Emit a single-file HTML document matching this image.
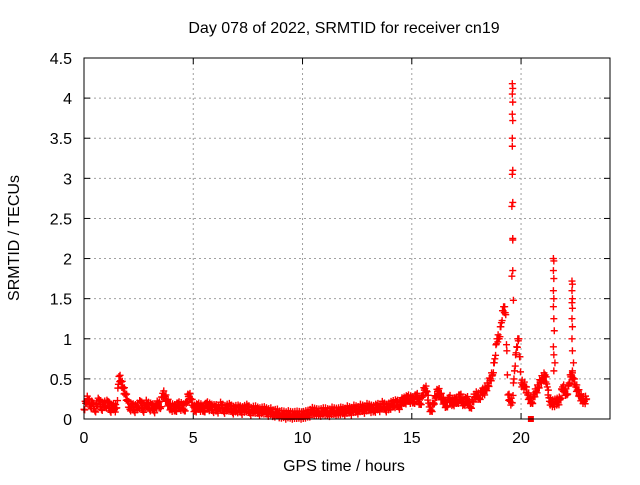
<!DOCTYPE html>
<html><head><meta charset="utf-8"><style>
body{margin:0;background:#fff}
svg text{font-family:"Liberation Sans",sans-serif;font-size:16px;fill:#000}
</style></head><body>
<svg id="chart" width="640" height="480" viewBox="0 0 640 480" xmlns="http://www.w3.org/2000/svg">
<rect width="640" height="480" fill="#fff"/>
<text x="344" y="33" text-anchor="middle">Day 078 of 2022, SRMTID for receiver cn19</text>
<text x="344" y="471" text-anchor="middle">GPS time / hours</text>
<text x="19" y="238" text-anchor="middle" transform="rotate(-90 19 238)">SRMTID / TECUs</text>
<g id="grid"></g>
<g id="ticks"></g>
<g id="marks"></g>
<rect x="84" y="58" width="526" height="361" fill="none" stroke="#000" stroke-width="1"/>
</svg>
<script>
const xTicks=[0,5,10,15,20];
const yTicks=[0,0.5,1,1.5,2,2.5,3,3.5,4,4.5];
const yTickLabels=["0","0.5","1","1.5","2","2.5","3","3.5","4","4.5"];
const baseStart=0, baseStep=0.1;
const baseValues=[
0.12,0.22,0.25,0.15,0.2,0.1,0.18,0.24,0.12,0.2,
0.15,0.22,0.1,0.17,0.12,0.14,0.53,0.46,0.38,0.3,
0.22,0.12,0.18,0.1,0.16,0.14,0.22,0.1,0.17,0.2,
0.12,0.18,0.1,0.15,0.2,0.13,0.32,0.28,0.22,0.17,
0.12,0.16,0.1,0.2,0.13,0.18,0.1,0.22,0.3,0.24,
0.15,0.1,0.18,0.12,0.16,0.09,0.2,0.13,0.17,0.1,
0.16,0.1,0.14,0.18,0.09,0.15,0.12,0.17,0.08,0.14,
0.1,0.15,0.08,0.13,0.11,0.16,0.07,0.12,0.1,0.13,
0.07,0.11,0.09,0.12,0.06,0.1,0.08,0.05,0.09,0.06,
0.04,0.07,0.03,0.05,0.06,0.03,0.05,0.04,0.06,0.03,
0.05,0.04,0.07,0.05,0.09,0.1,0.07,0.09,0.06,0.1,
0.08,0.1,0.06,0.09,0.11,0.07,0.1,0.08,0.12,0.07,
0.1,0.13,0.08,0.11,0.14,0.09,0.12,0.15,0.1,0.13,
0.16,0.11,0.14,0.1,0.17,0.12,0.15,0.19,0.11,0.16,
0.14,0.2,0.16,0.22,0.15,0.18,0.25,0.2,0.28,0.22,
0.26,0.2,0.3,0.24,0.18,0.3,0.38,0.34,0.15,0.1,
0.2,0.28,0.36,0.3,0.24,0.2,0.15,0.27,0.22,0.18,
0.25,0.2,0.3,0.22,0.18,0.26,0.2,0.14,0.24,0.28,
0.3,0.25,0.35,0.32,0.38,0.42,0.5,0.55,0.75,1.0,
1.0,1.2,1.4,1.3,0.3,0.22,0.2,0.6,0.9,1.0,
0.45,0.42,0.4,0.3,0.25,0.2,0.3,0.35,0.4,0.48,
0.5,0.55,0.4,0.22,0.2,0.18,0.22,0.2,0.25,0.4,
0.35,0.3,0.45,0.55,0.5,0.4,0.35,0.28,0.24,0.22,0.25];
const spikeHours=[19.6,19.62,19.6,19.62,19.6,19.62,19.6,19.6,19.62,19.6,19.62,19.58,19.62,19.62,19.58,19.62,19.65,
21.48,21.5,21.48,21.5,21.48,21.5,21.48,21.5,21.52,21.48,21.5,21.55,21.5,
22.33,22.35,22.33,22.35,22.33,22.35,22.33,22.35,22.33,22.35,22.4,22.35];
const spikeValues=[4.18,4.12,4.05,3.95,3.8,3.72,3.5,3.4,3.1,3.05,2.7,2.65,2.25,2.23,1.78,1.85,1.48,
2.0,1.97,1.85,1.75,1.6,1.5,1.4,1.25,1.1,0.9,0.8,0.7,0.6,
1.72,1.68,1.6,1.5,1.45,1.38,1.25,1.15,1.0,0.85,0.7,0.6];
const NS="http://www.w3.org/2000/svg";
const X=h=>84+h*(526/24.07);
const Y=v=>419-v*(361/4.5);
const grid=document.getElementById('grid'),ticks=document.getElementById('ticks'),marks=document.getElementById('marks');
function mk(t,a,p){const e=document.createElementNS(NS,t);for(const k in a)e.setAttribute(k,a[k]);p.appendChild(e);return e;}
xTicks.forEach(t=>{const x=X(t);
 const g=mk('line',{x1:x,x2:x,y1:58,y2:419,stroke:'#a0a0a0','stroke-dasharray':'2,3'},grid);
 
 
 const l=mk('text',{x:x,y:443,'text-anchor':'middle'},ticks);l.textContent=t;
 
 
 mk('line',{x1:x,x2:x,y1:419,y2:413,stroke:'#000'},ticks);
 mk('line',{x1:x,x2:x,y1:58,y2:64,stroke:'#000'},ticks);
});
yTicks.forEach((t,i)=>{const y=Y(t);
 const g=mk('line',{x1:84,x2:610,y1:y,y2:y,stroke:'#a0a0a0','stroke-dasharray':'2,3'},grid);
 
 
 const l=mk('text',{x:72,y:y+6,'text-anchor':'end'},ticks);l.textContent=yTickLabels[i];
 
 
 mk('line',{x1:84,x2:90,y1:y,y2:y,stroke:'#000'},ticks);
 mk('line',{x1:610,x2:604,y1:y,y2:y,stroke:'#000'},ticks);
});
function plus(h,v){const x=X(h),y=Y(v);
 const p=mk('path',{d:`M${x-3.5},${y}H${x+3.5}M${x},${y-3.5}V${y+3.5}`,stroke:'#f00','stroke-width':1.4,fill:'none'},marks);
 
 
}
for(let i=0;i<baseValues.length;i++){
 const h=baseStart+i*baseStep;
 plus(h,baseValues[i]);
 if(i+1<baseValues.length){
  const a=baseValues[i],b=baseValues[i+1];
  plus(h+baseStep/2,(a+b)/2+0.05);
  plus(h+baseStep/3,(a*2+b)/3-0.04);
  plus(h+baseStep*0.75,(a+b*3)/4);
 }
}
for(let i=0;i<spikeHours.length;i++)plus(spikeHours[i],spikeValues[i]);
const sq=mk('rect',{x:X(20.45)-3,y:416,width:6,height:6,fill:'#f00'},marks);


</script>
</body></html>
